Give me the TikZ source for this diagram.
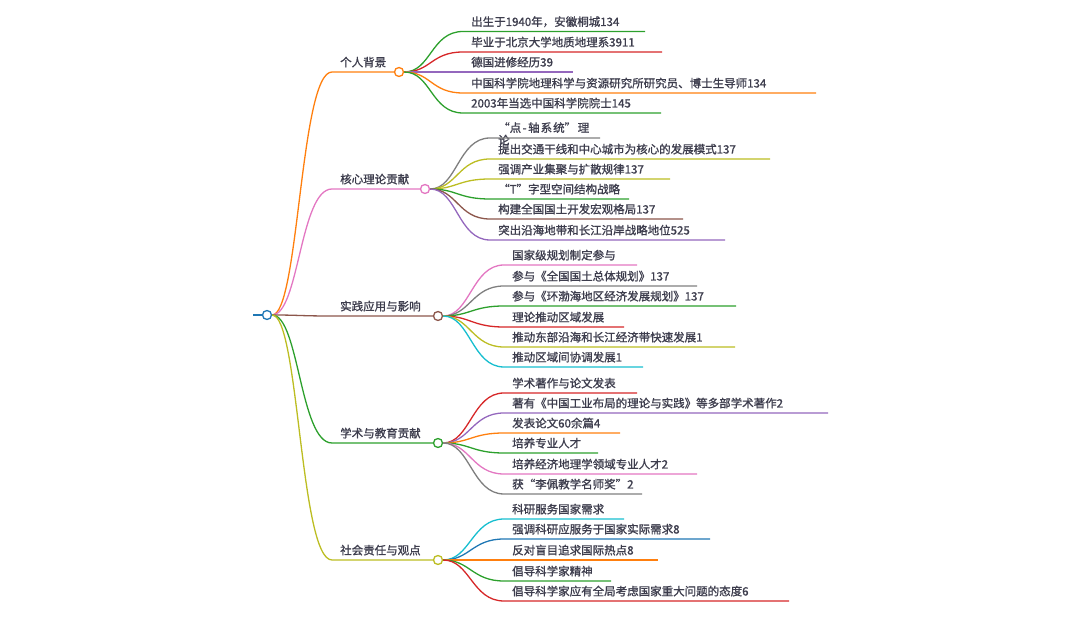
\documentclass[tikz,border=0pt]{standalone}
\usepackage{fontspec}
\setmainfont{Noto Sans CJK SC}[FakeBold=1.2]
\definecolor{cblue}{HTML}{1F77B4}
\definecolor{corange}{HTML}{FF7F0E}
\definecolor{cgreen}{HTML}{2CA02C}
\definecolor{cred}{HTML}{D62728}
\definecolor{cpurple}{HTML}{9467BD}
\definecolor{cbrown}{HTML}{8C564B}
\definecolor{cpink}{HTML}{E377C2}
\definecolor{cgray}{HTML}{7F7F7F}
\definecolor{colive}{HTML}{BCBD22}
\definecolor{ccyan}{HTML}{17BECF}
\definecolor{ink}{HTML}{3D3D4D}
\tikzstyle{leaf} = [anchor=base west, inner sep=0pt, text=ink, align=left, font=\fontsize{11.5}{12.5}\selectfont]
\tikzstyle{hub} = [circle, draw, fill=white, line width=1.3pt, inner sep=0pt, minimum size=9pt]
\tikzstyle{wire} = [line width=1.3pt]

\begin{document}
\begin{tikzpicture}[x=1pt, y=-1pt]
    \useasboundingbox (0,0) rectangle (1080,617);

    % root
    \node[hub, draw=cblue] (r) at (267,315) {};
    \coordinate (r0) at (253,315);
    \draw[wire, cblue] (r0) -- (r);

    % main branches
    \foreach \n/\ul/\xc/\col/\txt in {
        1/72/399/corange/个人背景,
        2/189/425/cpink/核心理论贡献,
        3/316/438/cbrown/实践应用与影响,
        4/443/438/cgreen/学术与教育贡献,
        5/560/438/colive/社会责任与观点} {
        \node[hub, draw=\col] (c\n) at (\xc,\ul) {};
        \node[leaf] (b\n) at (340,\ul-5.5) {\txt};
        \coordinate (b\n-s) at (332,\ul);
        \draw[wire, \col] (r) .. controls +(32,0) and +(-32,0) .. (b\n-s) -- (c\n);
    }

    % 个人背景
    \foreach \ul/\xe/\col/\txt [count=\i] in {
        31.5/645/cgreen/{出生于1940年，安徽桐城134},
        52/662/cred/{毕业于北京大学地质地理系3911},
        72/573/cpurple/{德国进修经历39},
        93/816/corange/{中国科学院地理科学与资源研究所研究员、博士生导师134},
        113/661/cgreen/{2003年当选中国科学院院士145}} {
        \node[leaf] (l1-\i) at (471,\ul-5.5) {\txt};
        \coordinate (l1-\i-s) at (463,\ul);
        \coordinate (l1-\i-e) at (\xe,\ul);
        \draw[wire, \col] (c1) .. controls +(32,0) and +(-32,0) .. (l1-\i-s) -- (l1-\i-e);
    }

    % 核心理论贡献
    \node[leaf] (l2-1) at (498,144.5) {“点\hspace{1.5pt}-\hspace{1.5pt}轴\hspace{1pt}系\hspace{1pt}统”\hspace{1.5pt}理\\论};
    \coordinate (l2-1-s) at (490,138);
    \coordinate (l2-1-e) at (600,138);
    \draw[wire, cgray] (c2) .. controls +(32,0) and +(-32,0) .. (l2-1-s) -- (l2-1-e);
    \foreach \ul/\xe/\col/\txt [count=\i from 2] in {
        159/770/colive/{提出交通干线和中心城市为核心的发展模式137},
        179/670/colive/{强调产业集聚与扩散规律137},
        199/629/cgreen/{“T”字型空间结构战略},
        219/683/cbrown/{构建全国国土开发宏观格局137},
        240/725/cpurple/{突出沿海地带和长江沿岸战略地位525}} {
        \node[leaf] (l2-\i) at (498,\ul-5.5) {\txt};
        \coordinate (l2-\i-s) at (490,\ul);
        \coordinate (l2-\i-e) at (\xe,\ul);
        \draw[wire, \col] (c2) .. controls +(32,0) and +(-32,0) .. (l2-\i-s) -- (l2-\i-e);
    }

    % 实践应用与影响
    \foreach \ul/\xe/\col/\txt [count=\i] in {
        265/637/cpink/{国家级规划制定参与},
        286/697/cgray/{参与《全国国土总体规划》137},
        306/736/cgreen/{参与《环渤海地区经济发展规划》137},
        327/624/cred/{理论推动区域发展},
        347/735/colive/{推动东部沿海和长江经济带快速发展1},
        367/643/ccyan/{推动区域间协调发展1}} {
        \node[leaf] (l3-\i) at (512,\ul-5.5) {\txt};
        \coordinate (l3-\i-s) at (504,\ul);
        \coordinate (l3-\i-e) at (\xe,\ul);
        \draw[wire, \col] (c3) .. controls +(32,0) and +(-32,0) .. (l3-\i-s) -- (l3-\i-e);
    }

    % 学术与教育贡献
    \foreach \ul/\xe/\col/\txt [count=\i] in {
        393/637/cred/{学术著作与论文发表},
        413/828/cpurple/{著有《中国工业布局的理论与实践》等多部学术著作2},
        433/620/corange/{发表论文60余篇4},
        453/598/cgreen/{培养专业人才},
        474/697/cpink/{培养经济地理学领域专业人才2},
        494/642/cgray/{获“李佩教学名师奖”2}} {
        \node[leaf] (l4-\i) at (512,\ul-5.5) {\txt};
        \coordinate (l4-\i-s) at (504,\ul);
        \coordinate (l4-\i-e) at (\xe,\ul);
        \draw[wire, \col] (c4) .. controls +(32,0) and +(-32,0) .. (l4-\i-s) -- (l4-\i-e);
    }

    % 社会责任与观点
    \foreach \ul/\xe/\col/\txt [count=\i] in {
        519/624/ccyan/{科研服务国家需求},
        539/710/cblue/{强调科研应服务于国家实际需求8},
        560/658/corange/{反对盲目追求国际热点8},
        581/611/cgreen/{倡导科学家精神},
        601/789/cred/{倡导科学家应有全局考虑国家重大问题的态度6}} {
        \node[leaf] (l5-\i) at (512,\ul-5.5) {\txt};
        \coordinate (l5-\i-s) at (504,\ul);
        \coordinate (l5-\i-e) at (\xe,\ul);
        \draw[wire, \col] (c5) .. controls +(32,0) and +(-32,0) .. (l5-\i-s) -- (l5-\i-e);
    }
\end{tikzpicture}
\end{document}
